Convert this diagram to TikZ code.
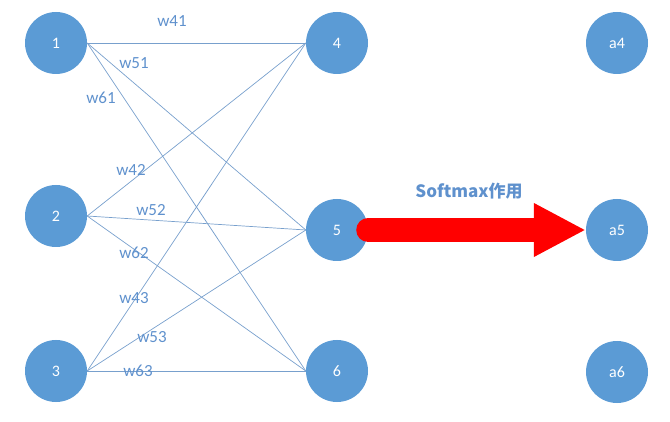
\documentclass[tikz,border=0pt]{standalone}
\usepackage{fontspec}
\setmainfont{Carlito}
\newfontfamily\cjk{Noto Sans CJK SC}
\usetikzlibrary{arrows.meta, positioning}
\definecolor{nodeBlue}{RGB}{91,155,213}
\definecolor{edgeBlue}{RGB}{120,160,205}
\definecolor{textBlue}{RGB}{95,145,205}
\tikzset{
    neuron/.style={circle, fill=nodeBlue, text=white, inner sep=0pt, minimum size=62pt, font=\fontsize{16}{16}\selectfont},
    weightEdge/.style={draw=edgeBlue, line width=0.7pt},
    wLabel/.style={text=textBlue, inner sep=0pt, font=\fontsize{17}{17}\selectfont},
    softArrow/.style={draw=red, line width=24pt, line cap=round, -{Triangle[length=52pt, width=50pt]}},
}
\newcommand{\drawWeight}[2]{
    \draw[weightEdge] (#1.east) -- (#2.west);
}
\begin{document}
\begin{tikzpicture}[x=1pt, y=-1pt]
        \useasboundingbox (0,0) rectangle (670,422);

        % 输入层
        \node[neuron] (n1) at (56,43) {1};
        \node[neuron] (n2) at (56,216) {2};
        \node[neuron] (n3) at (56,371) {3};
        % 输出层
        \node[neuron] (n4) at (337,43) {4};
        \node[neuron] (n5) at (337,230) {5};
        \node[neuron] (n6) at (337,371) {6};
        % softmax 之后
        \node[neuron] (a4) at (617,43) {a4};
        \node[neuron] (a5) at (617,230) {a5};
        \node[neuron] (a6) at (617,372) {a6};

        \drawWeight{n1}{n4}
        \drawWeight{n1}{n5}
        \drawWeight{n1}{n6}
        \drawWeight{n2}{n4}
        \drawWeight{n2}{n5}
        \drawWeight{n2}{n6}
        \drawWeight{n3}{n4}
        \drawWeight{n3}{n5}
        \drawWeight{n3}{n6}

        \node[wLabel] (w41) at (172,21) {w41};
        \node[wLabel] (w51) at (134,63) {w51};
        \node[wLabel] (w61) at (101,98) {w61};
        \node[wLabel] (w42) at (131,170) {w42};
        \node[wLabel] (w52) at (151,210) {w52};
        \node[wLabel] (w62) at (134,253) {w62};
        \node[wLabel] (w43) at (134,298) {w43};
        \node[wLabel] (w53) at (152,337) {w53};
        \node[wLabel] (w63) at (138,371) {w63};

        \draw[softArrow] (n5.east) -- (a5.west);
        \node[text=textBlue, font=\cjk\bfseries\fontsize{17}{17}\selectfont] (smax) at (469,191) {Softmax作用};

    \end{tikzpicture}
\end{document}
